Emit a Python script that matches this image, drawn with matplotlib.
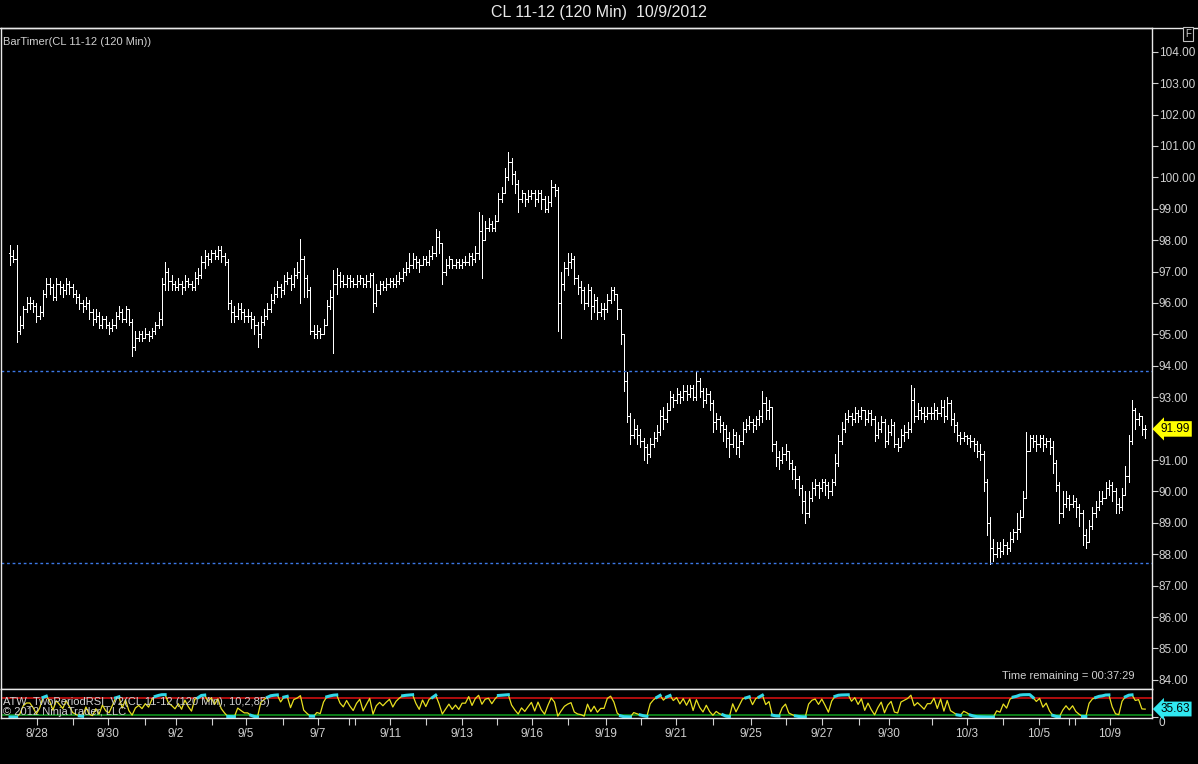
import numpy as np
import matplotlib
matplotlib.use("Agg")
import matplotlib.pyplot as plt
import matplotlib.transforms as mtransforms
from matplotlib.collections import LineCollection

plt.rcParams['font.family'] = ['Liberation Sans', 'DejaVu Sans']

# ---------------- data (120-min OHLC bars, CL 11-12) ----------------
first_open = 97.6
closes = [
    97.5, 97.4, 95.1, 95.3, 95.8, 96.0, 96.0, 95.9, 95.6, 95.7,
    96.3, 96.6, 96.5, 96.2, 96.6, 96.5, 96.4, 96.6, 96.5, 96.3,
    96.2, 96.0, 95.9, 96.0, 95.7, 95.5, 95.6, 95.3, 95.5, 95.3,
    95.2, 95.3, 95.6, 95.7, 95.5, 95.8, 95.4, 94.6, 94.9, 95.0,
    94.9, 95.0, 94.95, 95.1, 95.3, 95.5, 96.6, 97.0, 96.7, 96.6,
    96.5, 96.6, 96.5, 96.7, 96.6, 96.5, 96.8, 96.9, 97.3, 97.5,
    97.4, 97.6, 97.5, 97.7, 97.5, 97.3, 96.0, 95.7, 95.6, 95.8,
    95.7, 95.6, 95.6, 95.5, 95.3, 95.0, 95.4, 95.6, 95.8, 96.1,
    96.3, 96.5, 96.4, 96.7, 96.8, 96.6, 96.9, 97.0, 97.4, 96.8,
    96.4, 95.1, 95.0, 95.1, 95.0, 95.3, 95.9, 96.2, 96.6, 96.9,
    96.7, 96.6, 96.8, 96.7, 96.6, 96.7, 96.8, 96.6, 96.7, 96.9,
    96.0, 96.4, 96.6, 96.5, 96.6, 96.7, 96.6, 96.7, 96.8, 97.0,
    97.1, 97.2, 97.4, 97.3, 97.2, 97.4, 97.3, 97.5, 97.6, 98.1,
    97.9, 97.0, 97.2, 97.4, 97.2, 97.3, 97.2, 97.3, 97.3, 97.5,
    97.4, 97.6, 98.3, 98.0, 98.4, 98.5, 98.4, 98.6, 99.3, 99.5,
    100.0, 100.5, 100.1, 99.8, 99.3, 99.5, 99.3, 99.4, 99.5, 99.3,
    99.5, 99.3, 99.0, 99.2, 99.7, 99.6, 96.0, 96.6, 97.1, 97.3,
    97.4, 96.8, 96.5, 96.4, 96.0, 96.4, 95.9, 96.1, 95.7, 95.8,
    95.8, 96.1, 96.4, 96.3, 95.8, 95.0, 93.5, 92.4, 91.8, 92.0,
    91.8, 91.6, 91.4, 91.2, 91.5, 91.7, 91.9, 92.4, 92.3, 92.6,
    93.0, 92.9, 93.1, 93.0, 93.2, 93.1, 93.3, 93.0, 93.5, 93.2,
    92.9, 93.1, 92.8, 92.2, 92.3, 92.1, 92.0, 91.7, 91.5, 91.8,
    91.4, 91.6, 92.0, 92.1, 92.2, 92.1, 92.3, 92.4, 92.8, 92.6,
    92.7, 91.5, 91.1, 91.0, 91.2, 91.3, 90.9, 90.7, 90.4, 90.1,
    89.7, 89.3, 89.8, 90.1, 90.2, 90.1, 90.3, 90.2, 90.0, 90.3,
    90.9, 91.6, 92.0, 92.3, 92.4, 92.3, 92.5, 92.4, 92.6, 92.3,
    92.5, 92.3, 91.8, 92.0, 92.2, 91.6, 91.9, 92.1, 91.5, 91.4,
    91.8, 91.9, 92.0, 92.9, 92.4, 92.6, 92.5, 92.4, 92.5, 92.5,
    92.6, 92.5, 92.7, 92.4, 92.8, 92.3, 92.1, 91.8, 91.7, 91.75,
    91.7, 91.6, 91.5, 91.3, 91.2, 90.3, 89.0, 88.2, 88.0, 88.2,
    88.1, 88.3, 88.2, 88.5, 88.7, 88.8, 89.2, 89.8, 91.3, 91.7,
    91.6, 91.5, 91.7, 91.5, 91.6, 91.4, 90.9, 90.2, 89.3, 89.6,
    89.8, 89.6, 89.7, 89.5, 89.3, 88.6, 88.4, 88.9, 89.3, 89.5,
    89.7, 89.8, 90.1, 90.2, 90.0, 89.6, 89.5, 89.9, 90.5, 91.6,
    92.6, 92.3, 92.4, 92.0, 91.99,
]
highs = [
    97.85, 97.7, 97.85, 95.6, 95.9, 96.2, 96.2, 96.1, 96.0, 95.9,
    96.4, 96.8, 96.8, 96.6, 96.8, 96.7, 96.6, 96.8, 96.7, 96.6,
    96.4, 96.3, 96.1, 96.2, 96.1, 95.8, 95.8, 95.7, 95.6, 95.6,
    95.4, 95.5, 95.7, 95.9, 95.8, 95.9, 95.8, 95.5, 95.1, 95.1,
    95.1, 95.2, 95.1, 95.2, 95.4, 95.7, 96.8, 97.3, 97.1, 96.9,
    96.7, 96.8, 96.7, 96.9, 96.8, 96.7, 97.0, 97.1, 97.5, 97.7,
    97.6, 97.7, 97.7, 97.8, 97.8, 97.6, 97.4, 96.1, 95.9, 96.0,
    96.0, 95.8, 95.8, 95.7, 95.6, 95.4, 95.6, 95.8, 96.0, 96.3,
    96.5, 96.7, 96.6, 96.9, 97.0, 96.9, 97.1, 97.3, 98.05, 97.5,
    96.9, 96.5, 95.3, 95.3, 95.2, 95.5, 96.1, 96.4, 97.05, 97.1,
    97.0, 96.9, 96.9, 96.9, 96.8, 96.9, 96.9, 96.8, 96.9, 96.95,
    96.95, 96.6, 96.7, 96.7, 96.8, 96.8, 96.8, 96.9, 97.0, 97.1,
    97.3, 97.6, 97.6, 97.5, 97.4, 97.5, 97.5, 97.7, 97.8, 98.35,
    98.3, 97.9, 97.4, 97.5, 97.4, 97.4, 97.4, 97.4, 97.5, 97.6,
    97.6, 97.8, 98.9, 98.8, 98.6, 98.7, 98.6, 98.8, 99.5, 99.7,
    100.3, 100.8, 100.6, 100.2, 99.9, 99.6, 99.5, 99.6, 99.6, 99.6,
    99.6, 99.6, 99.4, 99.4, 99.9, 99.8, 99.7, 97.0, 97.3, 97.6,
    97.6, 97.5, 96.9, 96.7, 96.5, 96.6, 96.5, 96.3, 96.2, 96.0,
    96.0, 96.3, 96.5, 96.5, 96.3, 95.8, 95.0, 93.8, 92.5, 92.3,
    92.1, 92.0, 91.7, 91.5, 91.7, 91.9, 92.1, 92.6, 92.7, 92.8,
    93.2, 93.1, 93.3, 93.2, 93.4, 93.4, 93.4, 93.4, 93.8, 93.6,
    93.3, 93.3, 93.2, 92.9, 92.5, 92.4, 92.2, 92.1, 91.9, 92.0,
    91.9, 91.8, 92.2, 92.3, 92.4, 92.3, 92.4, 92.6, 93.2, 93.0,
    92.9, 92.7, 91.6, 91.3, 91.4, 91.5, 91.3, 91.0, 90.8, 90.5,
    90.2, 90.0, 90.0, 90.3, 90.4, 90.3, 90.4, 90.4, 90.3, 90.4,
    91.2, 91.8, 92.2, 92.5, 92.6, 92.5, 92.7, 92.6, 92.7, 92.6,
    92.6, 92.6, 92.4, 92.2, 92.4, 92.3, 92.1, 92.3, 92.2, 91.7,
    92.0, 92.1, 92.2, 93.4, 93.3, 92.8, 92.7, 92.7, 92.7, 92.7,
    92.8, 92.7, 92.9, 92.9, 93.0, 92.9, 92.5, 92.2, 91.9, 91.9,
    91.8, 91.8, 91.7, 91.6, 91.5, 91.3, 90.4, 89.2, 88.5, 88.4,
    88.4, 88.5, 88.4, 88.7, 88.8, 89.3, 89.4, 90.0, 91.9, 91.8,
    91.8, 91.8, 91.8, 91.8, 91.7, 91.7, 91.6, 91.0, 90.3, 90.0,
    90.0, 89.9, 89.9, 89.8, 89.6, 89.4, 88.8, 89.1, 89.5, 89.7,
    90.0, 90.0, 90.3, 90.35, 90.3, 90.1, 89.8, 90.1, 90.8, 91.8,
    92.9, 92.65, 92.5, 92.4, 92.1,
]
lows = [
    97.2, 97.3, 94.75, 95.0, 95.2, 95.7, 95.8, 95.7, 95.4, 95.5,
    95.6, 96.2, 96.3, 96.1, 96.1, 96.3, 96.2, 96.3, 96.3, 96.2,
    96.0, 95.8, 95.7, 95.8, 95.5, 95.3, 95.4, 95.2, 95.2, 95.2,
    95.0, 95.1, 95.2, 95.5, 95.4, 95.4, 95.3, 94.3, 94.5, 94.8,
    94.8, 94.9, 94.8, 94.9, 95.0, 95.2, 95.3, 96.4, 96.4, 96.4,
    96.4, 96.4, 96.3, 96.4, 96.5, 96.4, 96.4, 96.6, 96.8, 97.1,
    97.2, 97.3, 97.4, 97.4, 97.3, 97.2, 95.8, 95.4, 95.4, 95.5,
    95.5, 95.4, 95.4, 95.2, 95.0, 94.6, 94.9, 95.3, 95.5, 95.7,
    96.0, 96.2, 96.2, 96.3, 96.6, 96.4, 96.5, 96.8, 96.0, 96.2,
    96.2, 95.0, 94.9, 94.9, 94.9, 95.0, 95.3, 95.8, 94.4, 96.3,
    96.5, 96.5, 96.5, 96.5, 96.5, 96.5, 96.6, 96.5, 96.5, 96.5,
    95.7, 95.9, 96.3, 96.4, 96.4, 96.5, 96.5, 96.5, 96.6, 96.7,
    96.9, 97.0, 97.1, 97.1, 97.0, 97.2, 97.2, 97.2, 97.4, 97.5,
    97.6, 96.6, 96.9, 97.1, 97.1, 97.1, 97.1, 97.1, 97.2, 97.2,
    97.2, 97.3, 97.4, 96.8, 98.0, 98.3, 98.3, 98.3, 98.6, 99.2,
    99.5, 99.9, 99.8, 99.5, 98.9, 99.2, 99.1, 99.2, 99.3, 99.1,
    99.2, 99.0, 98.9, 98.9, 99.1, 99.4, 95.1, 94.9, 96.4, 96.9,
    97.1, 96.6, 96.3, 96.0, 95.8, 95.9, 95.5, 95.7, 95.5, 95.6,
    95.5, 95.7, 96.0, 96.1, 95.5, 94.7, 93.2, 92.2, 91.5, 91.7,
    91.5, 91.4, 91.0, 90.9, 91.1, 91.4, 91.6, 91.8, 92.0, 92.2,
    92.6, 92.7, 92.8, 92.8, 92.9, 92.9, 93.0, 92.9, 92.9, 93.0,
    92.7, 92.8, 92.6, 91.9, 92.0, 91.9, 91.6, 91.4, 91.1, 91.4,
    91.2, 91.1, 91.5, 91.9, 92.0, 91.9, 92.0, 92.1, 92.2, 92.3,
    92.3, 91.3, 90.8, 90.7, 90.9, 91.0, 90.7, 90.4, 90.1, 89.9,
    89.3, 89.0, 89.2, 89.7, 89.9, 89.8, 90.0, 89.9, 89.8, 89.9,
    90.2, 90.8, 91.5, 91.9, 92.2, 92.1, 92.2, 92.2, 92.3, 92.1,
    92.2, 92.1, 91.6, 91.7, 91.9, 91.4, 91.5, 91.8, 91.4, 91.3,
    91.4, 91.6, 91.7, 91.9, 92.2, 92.3, 92.3, 92.2, 92.3, 92.3,
    92.3, 92.3, 92.4, 92.2, 92.3, 92.1, 91.9, 91.6, 91.5, 91.6,
    91.5, 91.4, 91.3, 91.1, 91.0, 90.0, 88.6, 87.7, 87.8, 87.9,
    87.9, 88.0, 88.0, 88.1, 88.4, 88.5, 88.7, 89.2, 89.8, 91.3,
    91.4, 91.3, 91.4, 91.3, 91.4, 91.2, 90.6, 90.0, 89.0, 89.2,
    89.5, 89.4, 89.5, 89.2, 88.9, 88.3, 88.2, 88.4, 88.8, 89.2,
    89.4, 89.6, 89.8, 89.9, 89.7, 89.3, 89.3, 89.4, 89.9, 90.3,
    91.5, 92.0, 92.1, 91.8, 91.7,
]
opens = [first_open] + closes[:-1]

date_labels = ['8/28', '8/30', '9/2', '9/5', '9/7', '9/11', '9/13', '9/16',
               '9/19', '9/21', '9/25', '9/27', '9/30', '10/3', '10/5', '10/9']
date_label_bars = [8.2, 29.7, 50.3, 71.5, 93.3, 115.2, 137.0, 158.2,
                   180.6, 201.8, 224.5, 246.1, 266.4, 290.0, 311.8, 333.3]
day_tick_bars = [19.1, 40.9, 61.2, 82.7, 102.7, 104.5, 126.1, 147.6, 169.1,
                 191.2, 213.0, 235.2, 257.3, 279.4, 300.9, 320.9, 322.7]
price_ticks = [84, 85, 86, 87, 88, 89, 90, 91, 92, 93, 94, 95, 96, 97, 98,
               99, 100, 101, 102, 103, 104]
level_lines = [93.82, 87.73]
last_price = 91.99
rsi_period = 2
rsi_upper, rsi_lower = 85, 10
rsi_last_label = 35.63

# ---------------- figure ----------------
W, H = 1198, 764
fig = plt.figure(figsize=(W / 100, H / 100), dpi=100, facecolor='black')

def fr(x0, y0, x1, y1):
    return [x0 / W, 1 - y1 / H, (x1 - x0) / W, (y1 - y0) / H]

fg = '#D0D0D0'
ax = fig.add_axes(fr(1, 27.5, 1152, 689))
ax.set_facecolor('black')
n = len(closes)
xmin, xmax = -2.73, 346.06
ax.set_xlim(xmin, xmax)
ax.set_ylim(83.71, 104.77)

segs = []
for i in range(n):
    o, h, l, c = opens[i], highs[i], lows[i], closes[i]
    segs.append([(i, min(l, o, c)), (i, max(h, o, c))])
    segs.append([(i - 0.35, o), (i, o)])
    segs.append([(i, c), (i + 0.35, c)])
ax.add_collection(LineCollection(segs, colors='white', linewidths=0.72,
                                 antialiased=False))

for lv in level_lines:
    ax.axhline(lv, color='#3C78E6', lw=1.0, ls=(0, (2, 2)))

ax.yaxis.tick_right()
ax.set_yticks(price_ticks)
# the 92.00 label is hidden behind the last-price marker in the original
ax.set_yticklabels(['' if abs(p - last_price) < 0.5 else f'{p:.2f}'
                    for p in price_ticks])
ax.tick_params(axis='y', colors=fg, labelsize=8.5, length=4, width=0.8,
               direction='out', pad=1)
ax.set_xticks([])
for s in ax.spines.values():
    s.set_color('#E8E8E8')
    s.set_linewidth(1)

ax.text(0.002, 0.985, 'BarTimer(CL 11-12 (120 Min))', transform=ax.transAxes,
        color=fg, fontsize=8, va='top', ha='left')
ax.text(0.985, 0.012, 'Time remaining = 00:37:29', transform=ax.transAxes,
        color=fg, fontsize=8, va='bottom', ha='right')

trans = mtransforms.blended_transform_factory(ax.transAxes, ax.transData)
ax.text(1.0075, last_price, f'{last_price:.2f}', transform=trans, color='black',
        fontsize=8.5, va='center', ha='left', zorder=10, clip_on=False,
        bbox=dict(boxstyle='larrow,pad=0.15', fc='#FFFF00', ec='none'))

# ---------------- RSI panel ----------------
cl = np.array(closes)
d = np.diff(cl, prepend=first_open)
gain = np.clip(d, 0, None)
loss = np.clip(-d, 0, None)
ag = np.zeros(n)
al = np.zeros(n)
ag[0], al[0] = gain[0], loss[0]
for i in range(1, n):
    ag[i] = (ag[i - 1] * (rsi_period - 1) + gain[i]) / rsi_period
    al[i] = (al[i - 1] * (rsi_period - 1) + loss[i]) / rsi_period
rsi = np.where(ag + al == 0, 50, 100 * ag / np.where(ag + al == 0, 1, ag + al))

ax2 = fig.add_axes(fr(1, 689, 1152, 718))
ax2.set_facecolor('black')
ax2.set_xlim(xmin, xmax)
ax2.set_ylim(-4.5, 125)
idx = np.arange(n)
ax2.axhline(rsi_upper, color='#E01010', lw=1.1)
ax2.axhline(rsi_lower, color='#10A020', lw=1.1)
ax2.plot(idx, rsi, color='#E8E020', lw=0.9)
hi = np.where(rsi >= rsi_upper, rsi, np.nan)
lo = np.where(rsi <= rsi_lower, rsi, np.nan)
ax2.plot(idx, hi, color='#30D8E8', lw=2.2)
ax2.plot(idx, lo, color='#30D8E8', lw=2.2)

ax2.text(0.002, 0.55, 'ATW_TwoPeriodRSI_V2(CL 11-12 (120 Min), 10,2,85)',
         transform=ax2.transAxes, color=fg, fontsize=8, va='center', ha='left')
ax2.text(0.002, 0.22, '\u00a9 2012 NinjaTrader, LLC',
         transform=ax2.transAxes, color=fg, fontsize=8, va='center', ha='left')

ax2.yaxis.tick_right()
ax2.set_yticks([0])
ax2.set_yticklabels(['0'])
ax2.tick_params(axis='y', colors=fg, labelsize=8.5, length=4, width=0.8, pad=1)
for lab in ax2.get_yticklabels():
    lab.set_va('top')
trans2 = mtransforms.blended_transform_factory(ax2.transAxes, ax2.transData)
ax2.text(1.0075, rsi_last_label, f'{rsi_last_label:.2f}', transform=trans2,
         color='black', fontsize=8.5, va='center', ha='left', zorder=10,
         clip_on=False,
         bbox=dict(boxstyle='larrow,pad=0.12', fc='#30E8F0', ec='none'))

ax2.set_xticks(date_label_bars)
ax2.set_xticklabels(date_labels)
ax2.set_xticks(day_tick_bars, minor=True)
ax2.tick_params(axis='x', which='both', colors=fg, labelsize=8.5, length=5,
                width=0.8, direction='out', pad=2)
for s in ax2.spines.values():
    s.set_color('#E8E8E8')
    s.set_linewidth(1)

# title and corner box
fig.text(0.5, 1 - 13 / H, 'CL 11-12 (120 Min)  10/9/2012', color='#E8E8E8',
         fontsize=11.5, ha='center', va='center')
fig.text(1188 / W, 1 - 34 / H, 'F', color=fg, fontsize=7, ha='center',
         va='center', bbox=dict(boxstyle='square,pad=0.2', fc='black',
                                ec='#C0C0C0', lw=0.8))
fig.add_artist(plt.Line2D([0, 1], [1 - 27.5 / H, 1 - 27.5 / H],
                          color='#E8E8E8', lw=1))

fig.savefig('out.png', dpi=100, facecolor='black')
